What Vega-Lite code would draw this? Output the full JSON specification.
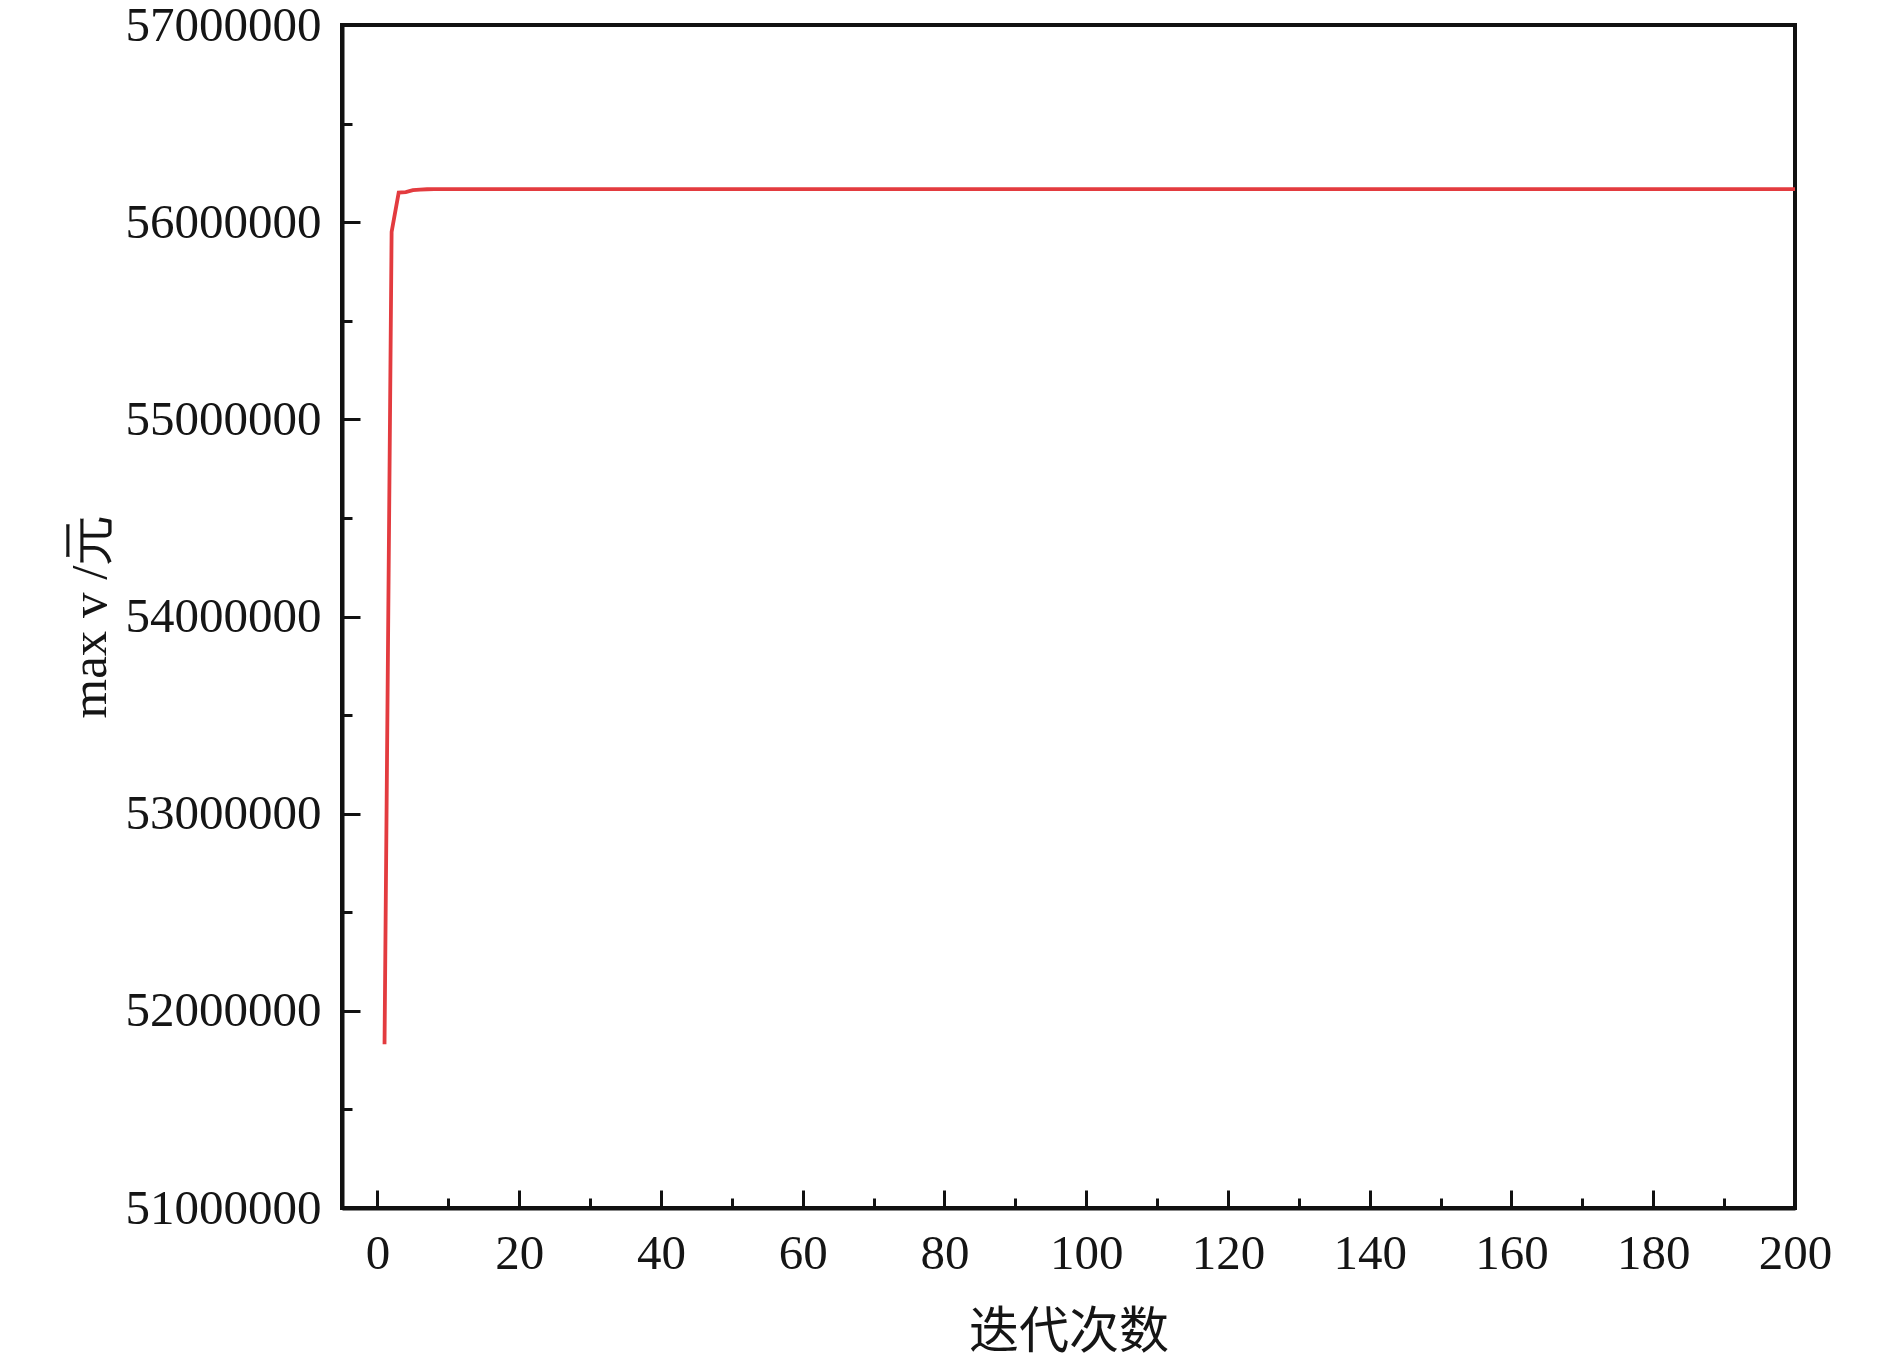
{
 "$schema": "https://vega.github.io/schema/vega-lite/v6.json",
 "width": 1453,
 "height": 1183,
 "autosize": {"type": "none"},
 "padding": {"left": 342, "top": 25, "right": 95, "bottom": 150},
 "background": "white",
 "config": {
  "view": {"stroke": "#111", "strokeWidth": 4},
  "axis": {"grid": false, "labelFont": "Liberation Serif", "titleFont": "Liberation Serif", "labelColor": "#151515", "titleColor": "#151515", "titleFontWeight": "normal", "labelFlush": false, "labelOverlap": false, "labelLimit": 0, "titleLimit": 0, "tickColor": "#111", "domainColor": "#111"}
 },
 "data": {"values": [
  {"iter": 1, "v": 51830000}, {"iter": 2, "v": 55950000}, {"iter": 3, "v": 56150000}, {"iter": 4, "v": 56152000}, {"iter": 5, "v": 56162000},
  {"iter": 6, "v": 56165000}, {"iter": 7, "v": 56167000}, {"iter": 8, "v": 56168000}, {"iter": 9, "v": 56168000}, {"iter": 10, "v": 56168000},
  {"iter": 11, "v": 56168000}, {"iter": 12, "v": 56168000}, {"iter": 13, "v": 56168000}, {"iter": 14, "v": 56168000}, {"iter": 15, "v": 56168000},
  {"iter": 16, "v": 56168000}, {"iter": 17, "v": 56168000}, {"iter": 18, "v": 56168000}, {"iter": 19, "v": 56168000}, {"iter": 20, "v": 56168000},
  {"iter": 21, "v": 56168000}, {"iter": 22, "v": 56168000}, {"iter": 23, "v": 56168000}, {"iter": 24, "v": 56168000}, {"iter": 25, "v": 56168000},
  {"iter": 26, "v": 56168000}, {"iter": 27, "v": 56168000}, {"iter": 28, "v": 56168000}, {"iter": 29, "v": 56168000}, {"iter": 30, "v": 56168000},
  {"iter": 31, "v": 56168000}, {"iter": 32, "v": 56168000}, {"iter": 33, "v": 56168000}, {"iter": 34, "v": 56168000}, {"iter": 35, "v": 56168000},
  {"iter": 36, "v": 56168000}, {"iter": 37, "v": 56168000}, {"iter": 38, "v": 56168000}, {"iter": 39, "v": 56168000}, {"iter": 40, "v": 56168000},
  {"iter": 41, "v": 56168000}, {"iter": 42, "v": 56168000}, {"iter": 43, "v": 56168000}, {"iter": 44, "v": 56168000}, {"iter": 45, "v": 56168000},
  {"iter": 46, "v": 56168000}, {"iter": 47, "v": 56168000}, {"iter": 48, "v": 56168000}, {"iter": 49, "v": 56168000}, {"iter": 50, "v": 56168000},
  {"iter": 51, "v": 56168000}, {"iter": 52, "v": 56168000}, {"iter": 53, "v": 56168000}, {"iter": 54, "v": 56168000}, {"iter": 55, "v": 56168000},
  {"iter": 56, "v": 56168000}, {"iter": 57, "v": 56168000}, {"iter": 58, "v": 56168000}, {"iter": 59, "v": 56168000}, {"iter": 60, "v": 56168000},
  {"iter": 61, "v": 56168000}, {"iter": 62, "v": 56168000}, {"iter": 63, "v": 56168000}, {"iter": 64, "v": 56168000}, {"iter": 65, "v": 56168000},
  {"iter": 66, "v": 56168000}, {"iter": 67, "v": 56168000}, {"iter": 68, "v": 56168000}, {"iter": 69, "v": 56168000}, {"iter": 70, "v": 56168000},
  {"iter": 71, "v": 56168000}, {"iter": 72, "v": 56168000}, {"iter": 73, "v": 56168000}, {"iter": 74, "v": 56168000}, {"iter": 75, "v": 56168000},
  {"iter": 76, "v": 56168000}, {"iter": 77, "v": 56168000}, {"iter": 78, "v": 56168000}, {"iter": 79, "v": 56168000}, {"iter": 80, "v": 56168000},
  {"iter": 81, "v": 56168000}, {"iter": 82, "v": 56168000}, {"iter": 83, "v": 56168000}, {"iter": 84, "v": 56168000}, {"iter": 85, "v": 56168000},
  {"iter": 86, "v": 56168000}, {"iter": 87, "v": 56168000}, {"iter": 88, "v": 56168000}, {"iter": 89, "v": 56168000}, {"iter": 90, "v": 56168000},
  {"iter": 91, "v": 56168000}, {"iter": 92, "v": 56168000}, {"iter": 93, "v": 56168000}, {"iter": 94, "v": 56168000}, {"iter": 95, "v": 56168000},
  {"iter": 96, "v": 56168000}, {"iter": 97, "v": 56168000}, {"iter": 98, "v": 56168000}, {"iter": 99, "v": 56168000}, {"iter": 100, "v": 56168000},
  {"iter": 101, "v": 56168000}, {"iter": 102, "v": 56168000}, {"iter": 103, "v": 56168000}, {"iter": 104, "v": 56168000}, {"iter": 105, "v": 56168000},
  {"iter": 106, "v": 56168000}, {"iter": 107, "v": 56168000}, {"iter": 108, "v": 56168000}, {"iter": 109, "v": 56168000}, {"iter": 110, "v": 56168000},
  {"iter": 111, "v": 56168000}, {"iter": 112, "v": 56168000}, {"iter": 113, "v": 56168000}, {"iter": 114, "v": 56168000}, {"iter": 115, "v": 56168000},
  {"iter": 116, "v": 56168000}, {"iter": 117, "v": 56168000}, {"iter": 118, "v": 56168000}, {"iter": 119, "v": 56168000}, {"iter": 120, "v": 56168000},
  {"iter": 121, "v": 56168000}, {"iter": 122, "v": 56168000}, {"iter": 123, "v": 56168000}, {"iter": 124, "v": 56168000}, {"iter": 125, "v": 56168000},
  {"iter": 126, "v": 56168000}, {"iter": 127, "v": 56168000}, {"iter": 128, "v": 56168000}, {"iter": 129, "v": 56168000}, {"iter": 130, "v": 56168000},
  {"iter": 131, "v": 56168000}, {"iter": 132, "v": 56168000}, {"iter": 133, "v": 56168000}, {"iter": 134, "v": 56168000}, {"iter": 135, "v": 56168000},
  {"iter": 136, "v": 56168000}, {"iter": 137, "v": 56168000}, {"iter": 138, "v": 56168000}, {"iter": 139, "v": 56168000}, {"iter": 140, "v": 56168000},
  {"iter": 141, "v": 56168000}, {"iter": 142, "v": 56168000}, {"iter": 143, "v": 56168000}, {"iter": 144, "v": 56168000}, {"iter": 145, "v": 56168000},
  {"iter": 146, "v": 56168000}, {"iter": 147, "v": 56168000}, {"iter": 148, "v": 56168000}, {"iter": 149, "v": 56168000}, {"iter": 150, "v": 56168000},
  {"iter": 151, "v": 56168000}, {"iter": 152, "v": 56168000}, {"iter": 153, "v": 56168000}, {"iter": 154, "v": 56168000}, {"iter": 155, "v": 56168000},
  {"iter": 156, "v": 56168000}, {"iter": 157, "v": 56168000}, {"iter": 158, "v": 56168000}, {"iter": 159, "v": 56168000}, {"iter": 160, "v": 56168000},
  {"iter": 161, "v": 56168000}, {"iter": 162, "v": 56168000}, {"iter": 163, "v": 56168000}, {"iter": 164, "v": 56168000}, {"iter": 165, "v": 56168000},
  {"iter": 166, "v": 56168000}, {"iter": 167, "v": 56168000}, {"iter": 168, "v": 56168000}, {"iter": 169, "v": 56168000}, {"iter": 170, "v": 56168000},
  {"iter": 171, "v": 56168000}, {"iter": 172, "v": 56168000}, {"iter": 173, "v": 56168000}, {"iter": 174, "v": 56168000}, {"iter": 175, "v": 56168000},
  {"iter": 176, "v": 56168000}, {"iter": 177, "v": 56168000}, {"iter": 178, "v": 56168000}, {"iter": 179, "v": 56168000}, {"iter": 180, "v": 56168000},
  {"iter": 181, "v": 56168000}, {"iter": 182, "v": 56168000}, {"iter": 183, "v": 56168000}, {"iter": 184, "v": 56168000}, {"iter": 185, "v": 56168000},
  {"iter": 186, "v": 56168000}, {"iter": 187, "v": 56168000}, {"iter": 188, "v": 56168000}, {"iter": 189, "v": 56168000}, {"iter": 190, "v": 56168000},
  {"iter": 191, "v": 56168000}, {"iter": 192, "v": 56168000}, {"iter": 193, "v": 56168000}, {"iter": 194, "v": 56168000}, {"iter": 195, "v": 56168000},
  {"iter": 196, "v": 56168000}, {"iter": 197, "v": 56168000}, {"iter": 198, "v": 56168000}, {"iter": 199, "v": 56168000}, {"iter": 200, "v": 56168000}
 ]},
 "layer": [
  {
   "mark": {"type": "line", "color": "#e33b3f", "strokeWidth": 3.8},
   "encoding": {
    "x": {"field": "iter", "type": "quantitative",
     "scale": {"domain": [-5, 200], "nice": false, "zero": false},
     "axis": {"orient": "bottom", "values": [0, 20, 40, 60, 80, 100, 120, 140, 160, 180, 200],
      "tickSize": -18, "tickWidth": 3, "domainWidth": 4, "labelFontSize": 49, "labelPadding": 39,
      "title": "迭代次数", "titleFont": "Noto Sans CJK SC", "titleFontSize": 50, "titleY": 124, "titleBaseline": "middle"}},
    "y": {"field": "v", "type": "quantitative",
     "scale": {"domain": [51000000, 57000000], "nice": false, "zero": false},
     "axis": {"orient": "left", "values": [51000000, 52000000, 53000000, 54000000, 55000000, 56000000, 57000000],
      "format": "d", "tickSize": -18, "tickWidth": 3, "domainWidth": 4, "labelFontSize": 49, "labelPadding": 39,
      "title": "max v /元", "titleFontSize": 51, "titleAngle": -90, "titleX": -252, "titleY": 591, "titleBaseline": "middle", "titleAlign": "center"}}
   }
  },
  {
   "mark": {"type": "line", "opacity": 0},
   "encoding": {
    "x": {"field": "iter", "type": "quantitative",
     "axis": {"orient": "bottom", "values": [10, 30, 50, 70, 90, 110, 130, 150, 170, 190],
      "tickSize": -10, "tickWidth": 3, "domain": false, "labels": false, "title": null}},
    "y": {"field": "v", "type": "quantitative",
     "axis": {"orient": "left", "values": [51500000, 52500000, 53500000, 54500000, 55500000, 56500000],
      "tickSize": -10, "tickWidth": 3, "domain": false, "labels": false, "title": null}}
   }
  }
 ],
 "resolve": {"axis": {"x": "independent", "y": "independent"}}
}
